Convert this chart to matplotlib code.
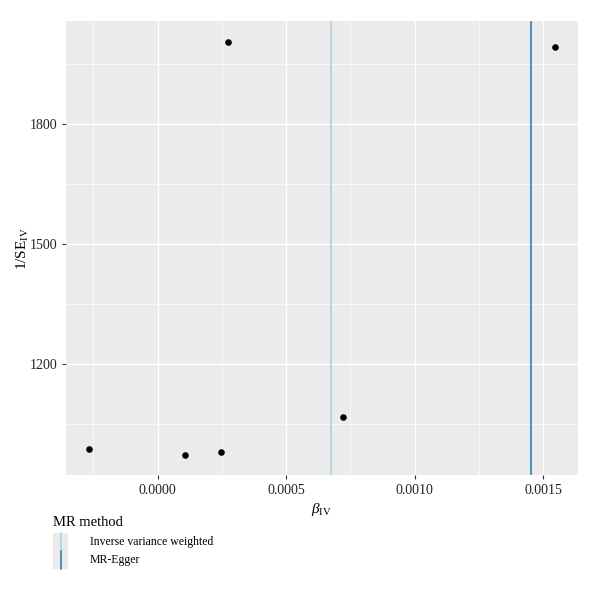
import matplotlib.pyplot as plt
from matplotlib.lines import Line2D
from matplotlib.patches import Rectangle
from matplotlib.ticker import MultipleLocator, FormatStrFormatter

plt.rcParams['font.family'] = ['Liberation Serif', 'DejaVu Serif']
plt.rcParams['mathtext.fontset'] = 'custom'
plt.rcParams['mathtext.rm'] = 'Liberation Serif'
plt.rcParams['mathtext.it'] = 'Liberation Serif:italic'

# SNP effects and precision
beta_iv = [-0.000266, 0.000106, 0.000246, 0.000274, 0.000721, 0.001545]
inv_se = [988, 973, 980, 2005, 1067, 1991]

# MR estimates (vertical lines)
methods = ['Inverse variance weighted', 'MR-Egger']
estimates = [0.000676, 0.001454]
colors = ['#a6cee3', '#1f78b4']

fig = plt.figure(figsize=(6, 5.89), dpi=100)
ax = fig.add_axes([0.11, 0.193, 0.853, 0.771])
ax.set_facecolor('#ebebeb')
for s in ax.spines.values():
    s.set_visible(False)

ax.xaxis.set_major_locator(MultipleLocator(0.0005))
ax.xaxis.set_minor_locator(MultipleLocator(0.00025))
ax.yaxis.set_major_locator(MultipleLocator(300))
ax.yaxis.set_minor_locator(MultipleLocator(150))
ax.xaxis.set_major_formatter(FormatStrFormatter('%.4f'))
ax.grid(which='major', color='white', lw=1.0)
ax.grid(which='minor', color='white', lw=0.5)
ax.set_axisbelow(True)
ax.tick_params(which='major', length=3, color='#333333', labelsize=10, labelcolor='#222222', pad=3)
ax.tick_params(which='minor', length=0)

ax.scatter(beta_iv, inv_se, s=14, color='black', zorder=3)
for est, col in zip(estimates, colors):
    ax.axvline(est, color=col, lw=1.1, zorder=2)

xr = max(beta_iv) - min(beta_iv)
yr = max(inv_se) - min(inv_se)
ax.set_xlim(min(beta_iv) - 0.05 * xr, max(beta_iv) + 0.05 * xr)
ax.set_ylim(min(inv_se) - 0.05 * yr, max(inv_se) + 0.05 * yr)

ax.set_xlabel(r'$\beta_{\mathrm{IV}}$', fontsize=11, labelpad=3)
ax.set_ylabel(r'1/SE$_{\mathrm{IV}}$', fontsize=11, labelpad=-1)

# legend, drawn in ggplot style below the panel
fig.text(53 / 600, 1 - 522 / 589, 'MR method', fontsize=10.5, va='center', ha='left')
key_x0, key_w, key_h = 53 / 600, 15 / 600, 17.5 / 589
for i, (m, col) in enumerate(zip(methods, colors)):
    yc = 1 - (542 + 18 * i) / 589
    fig.patches.append(Rectangle((key_x0, yc - key_h / 2), key_w, key_h,
                                 transform=fig.transFigure, facecolor='#ebebeb',
                                 edgecolor='none'))
    fig.lines.append(Line2D([key_x0 + key_w / 2] * 2, [yc - key_h / 2, yc + key_h / 2],
                            transform=fig.transFigure, color=col, lw=1.1))
    fig.text(90 / 600, yc, m, fontsize=8.5, va='center', ha='left')

fig.savefig('out.png', dpi=100)
